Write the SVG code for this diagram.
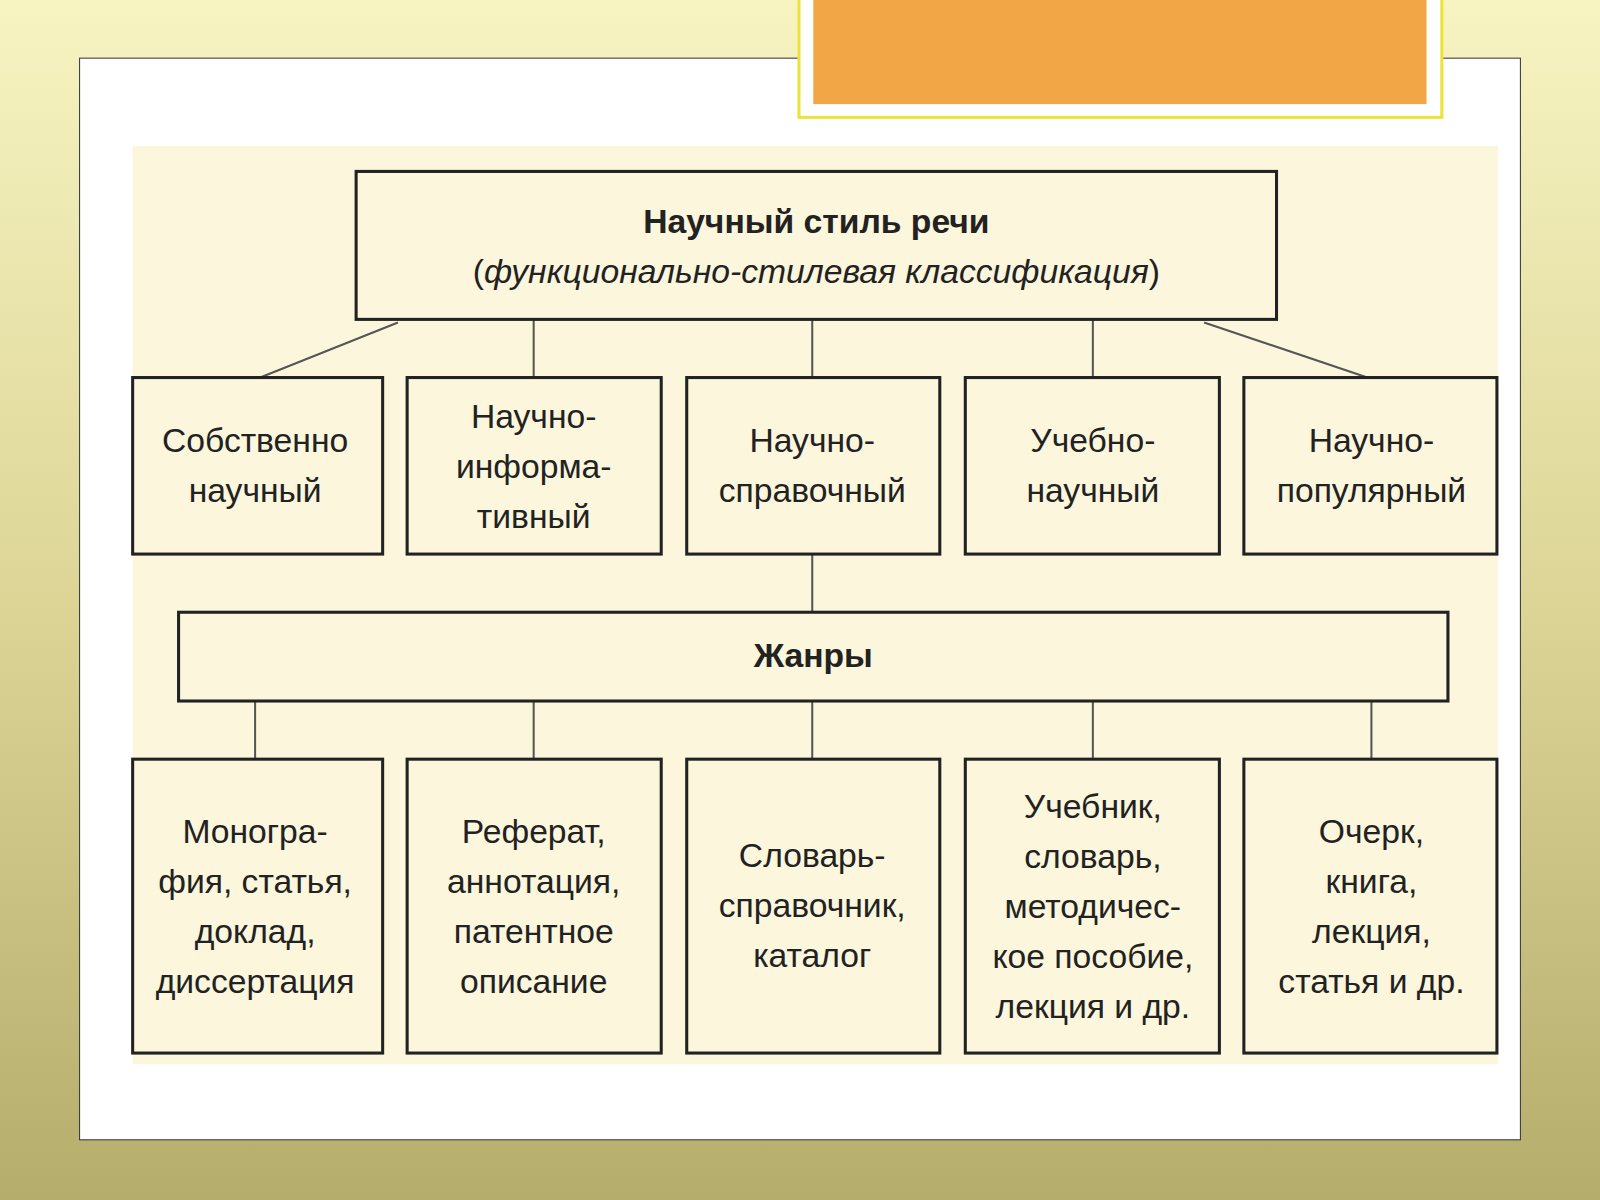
<svg xmlns="http://www.w3.org/2000/svg" width="1600" height="1200" viewBox="0 0 1600 1200">
<defs>
<linearGradient id="bg" x1="0" y1="0" x2="0" y2="1">
<stop offset="0" stop-color="#f7f4c2"/><stop offset="0.5" stop-color="#dcd596"/><stop offset="1" stop-color="#b5ad6c"/>
</linearGradient>
<style>
.b{fill:#fbf6dc;stroke:#222;stroke-width:3}
.t{font-family:"Liberation Sans",Arial,sans-serif;font-size:33px;fill:#222;text-anchor:middle}
.c line{stroke:#555;stroke-width:2}
</style>
</defs>
<rect width="1600" height="1200" fill="url(#bg)"/>
<g transform="scale(1.0204)">
<rect x="78" y="57" width="1412" height="1060" fill="#fff" stroke="#333" stroke-width="1"/>
<rect x="783" y="-2" width="630" height="117" fill="#fff" stroke="#ece23a" stroke-width="3"/>
<rect x="797" y="-2" width="601" height="104" fill="#f3a645"/>
<rect x="130" y="143" width="1338" height="900" fill="#fbf6dc"/>
<g class="c">
<line x1="390" y1="316" x2="255" y2="370"/><line x1="523" y1="313" x2="523" y2="370"/><line x1="796" y1="313" x2="796" y2="370"/><line x1="1071" y1="313" x2="1071" y2="370"/><line x1="1180" y1="316" x2="1340" y2="370"/>
<line x1="796" y1="543" x2="796" y2="600"/>
<line x1="250" y1="687" x2="250" y2="744"/><line x1="523" y1="687" x2="523" y2="744"/><line x1="796" y1="687" x2="796" y2="744"/><line x1="1071" y1="687" x2="1071" y2="744"/><line x1="1344" y1="687" x2="1344" y2="744"/>
</g>
<g id="root"><rect class="b" x="349" y="168" width="902" height="145"/>
<text class="t" x="800" y="228" font-weight="bold">Научный стиль речи</text>
<text class="t" x="800" y="277">(<tspan font-style="italic">функционально-стилевая классификация</tspan>)</text></g>
<g id="n1"><rect class="b" x="130" y="370" width="245" height="173"/><text class="t" x="250" y="443">Собственно</text><text class="t" x="250" y="492">научный</text></g>
<g id="n2"><rect class="b" x="399" y="370" width="249" height="173"/><text class="t" x="523" y="419">Научно-</text><text class="t" x="523" y="468">информа-</text><text class="t" x="523" y="517">тивный</text></g>
<g id="n3"><rect class="b" x="673" y="370" width="248" height="173"/><text class="t" x="796" y="443">Научно-</text><text class="t" x="796" y="492">справочный</text></g>
<g id="n4"><rect class="b" x="946" y="370" width="249" height="173"/><text class="t" x="1071" y="443">Учебно-</text><text class="t" x="1071" y="492">научный</text></g>
<g id="n5"><rect class="b" x="1219" y="370" width="248" height="173"/><text class="t" x="1344" y="443">Научно-</text><text class="t" x="1344" y="492">популярный</text></g>
<g id="genres"><rect class="b" x="175" y="600" width="1244" height="87"/><text class="t" x="797" y="654" font-weight="bold">Жанры</text></g>
<g id="g1"><rect class="b" x="130" y="744" width="245" height="288"/><text class="t" x="250" y="826">Моногра-</text><text class="t" x="250" y="875">фия, статья,</text><text class="t" x="250" y="924">доклад,</text><text class="t" x="250" y="973">диссертация</text></g>
<g id="g2"><rect class="b" x="399" y="744" width="249" height="288"/><text class="t" x="523" y="826">Реферат,</text><text class="t" x="523" y="875">аннотация,</text><text class="t" x="523" y="924">патентное</text><text class="t" x="523" y="973">описание</text></g>
<g id="g3"><rect class="b" x="673" y="744" width="248" height="288"/><text class="t" x="796" y="850">Словарь-</text><text class="t" x="796" y="899">справочник,</text><text class="t" x="796" y="948">каталог</text></g>
<g id="g4"><rect class="b" x="946" y="744" width="249" height="288"/><text class="t" x="1071" y="802">Учебник,</text><text class="t" x="1071" y="851">словарь,</text><text class="t" x="1071" y="900">методичес-</text><text class="t" x="1071" y="949">кое пособие,</text><text class="t" x="1071" y="998">лекция и др.</text></g>
<g id="g5"><rect class="b" x="1219" y="744" width="248" height="288"/><text class="t" x="1344" y="826">Очерк,</text><text class="t" x="1344" y="875">книга,</text><text class="t" x="1344" y="924">лекция,</text><text class="t" x="1344" y="973">статья и др.</text></g>
</g>
</svg>
